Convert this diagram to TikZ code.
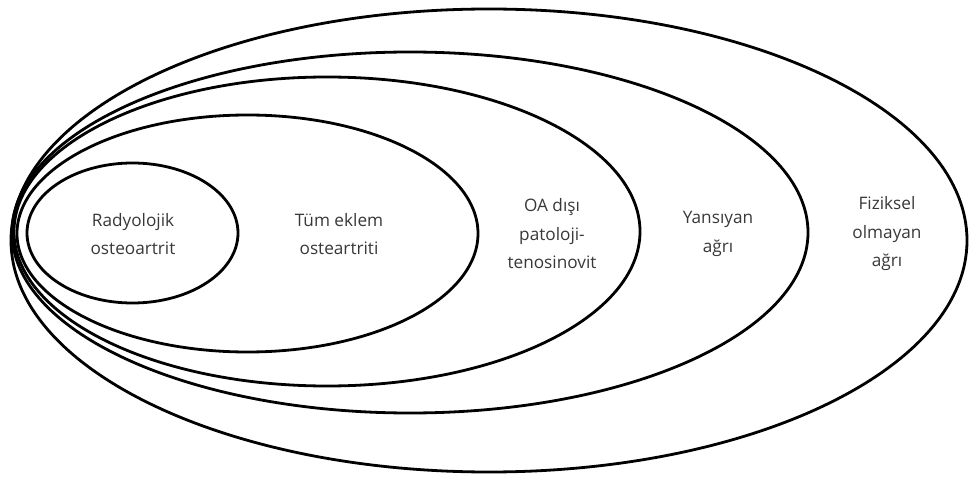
\documentclass[tikz,border=0pt]{standalone}
\usepackage{fontspec}
\setmainfont{Open Sans}
\begin{document}
\begin{tikzpicture}[x=1pt,y=-1pt,
  ring/.style={draw=black,line width=2.8pt},
  lbl/.style={align=center,font=\fontsize{17.2}{28.5}\selectfont,text=black!78}]
\useasboundingbox (0,0) rectangle (971,478);
\draw[ring] (489,240.5) ellipse [x radius=478,y radius=231.5];
\draw[ring] (410,232.5) ellipse [x radius=398,y radius=180.5];
\draw[ring] (327,231.5) ellipse [x radius=313,y radius=154.5];
\draw[ring] (247.5,233.5) ellipse [x radius=230.5,y radius=118.5];
\draw[ring] (132.5,233) ellipse [x radius=105.5,y radius=70];
\node[lbl] (r) at (133,234) {Radyolojik\\osteoartrit};
\node[lbl] (t) at (339,234) {Tüm eklem\\osteartriti};
\node[lbl] (o) at (552,234) {OA dışı\\patoloji-\\tenosinovit};
\node[lbl] (y) at (718,234) {Yansıyan\\ağrı};
\node[lbl] (f) at (887,234) {Fiziksel\\olmayan\\ağrı};
\end{tikzpicture}
\end{document}
